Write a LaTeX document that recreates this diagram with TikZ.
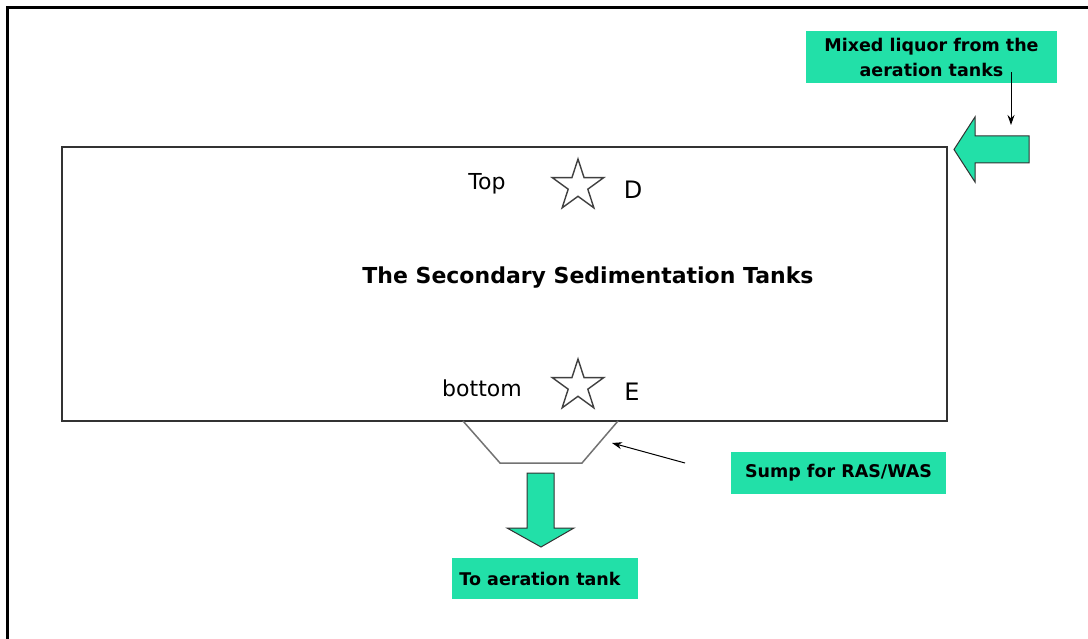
\documentclass[tikz,border=0pt]{standalone}
\usepackage{fontspec}
\setmainfont{DejaVu Sans}
\usetikzlibrary{shapes.geometric,arrows.meta}
\definecolor{lime}{RGB}{34,224,168}
\definecolor{edge}{RGB}{50,50,50}
\begin{document}
\begin{tikzpicture}[x=1pt,y=-1pt,
  greenbox/.style={fill=lime, inner sep=0pt, font=\bfseries\fontsize{17.5}{25}\selectfont, align=center},
  starnode/.style={star, star points=5, star point ratio=2.618, draw=black!75, line width=1.4pt, minimum size=54pt, inner sep=0pt},
  lbl/.style={font=\fontsize{22}{26}\selectfont, inner sep=0pt},
  letter/.style={font=\fontsize{24}{28}\selectfont, inner sep=0pt},
  pointer/.style={-{Stealth[length=10pt,width=7pt]}, line width=1pt},
  blockarrow/.style={fill=lime, draw=edge, line width=1pt, line join=miter}
]
\useasboundingbox (0,0) rectangle (1088,639);
\fill[white] (0,0) rectangle (1088,639);
% outer frame (left and top only)
\draw[line width=3.3pt] (7.7,639) -- (7.7,7.7) -- (1088,7.7);
% tank
\node[draw=edge, line width=1.5pt, minimum width=885pt, minimum height=274pt, inner sep=0pt] (tank) at (504.5,284) {};
\node[font=\bfseries\fontsize{22}{26}\selectfont, inner sep=0pt] (title) at (588,278) {The Secondary Sedimentation Tanks};
% top / bottom markers
\node[lbl] (top) at (487,184) {Top};
\node[starnode] (starD) at (578,186) {};
\node[letter] (D) at (633,190) {D};
\node[lbl] (bottom) at (482,388) {bottom};
\node[starnode] (starE) at (578,386) {};
\node[letter] (E) at (632,392) {E};
% sump
\draw[draw=black!55, line width=1.5pt] (463,421) -- (500,463) -- (582,463) -- (618,421);
% inflow
\node[greenbox, minimum width=251pt, minimum height=52pt] (mixed) at (931.5,57) {Mixed liquor from the\\ aeration tanks};
\coordinate (mixtip) at (1011,125);
\draw[pointer] ([xshift=79.5pt,yshift=11pt]mixed.south) -- (mixtip);
\draw[blockarrow] (954,149.5) -- (975,117) -- (975,136) -- (1029,136) -- (1029,163) -- (975,163) -- (975,182) -- cycle;
% sump label
\node[greenbox, minimum width=215pt, minimum height=42pt] (sumplbl) at (838.5,473) {Sump for RAS/WAS};
\coordinate (sumpfrom) at (685,463);
\coordinate (sumpto) at (612,443);
\draw[pointer] (sumpfrom) -- (sumpto);
% outflow
\draw[blockarrow] (527,473) -- (554,473) -- (554,528) -- (574,528) -- (541,547) -- (507,528) -- (527,528) -- cycle;
\node[greenbox, minimum width=186pt, minimum height=41pt] (toaer) at (545,578.5) {To aeration tank\hspace{10pt}};
\end{tikzpicture}
\end{document}
